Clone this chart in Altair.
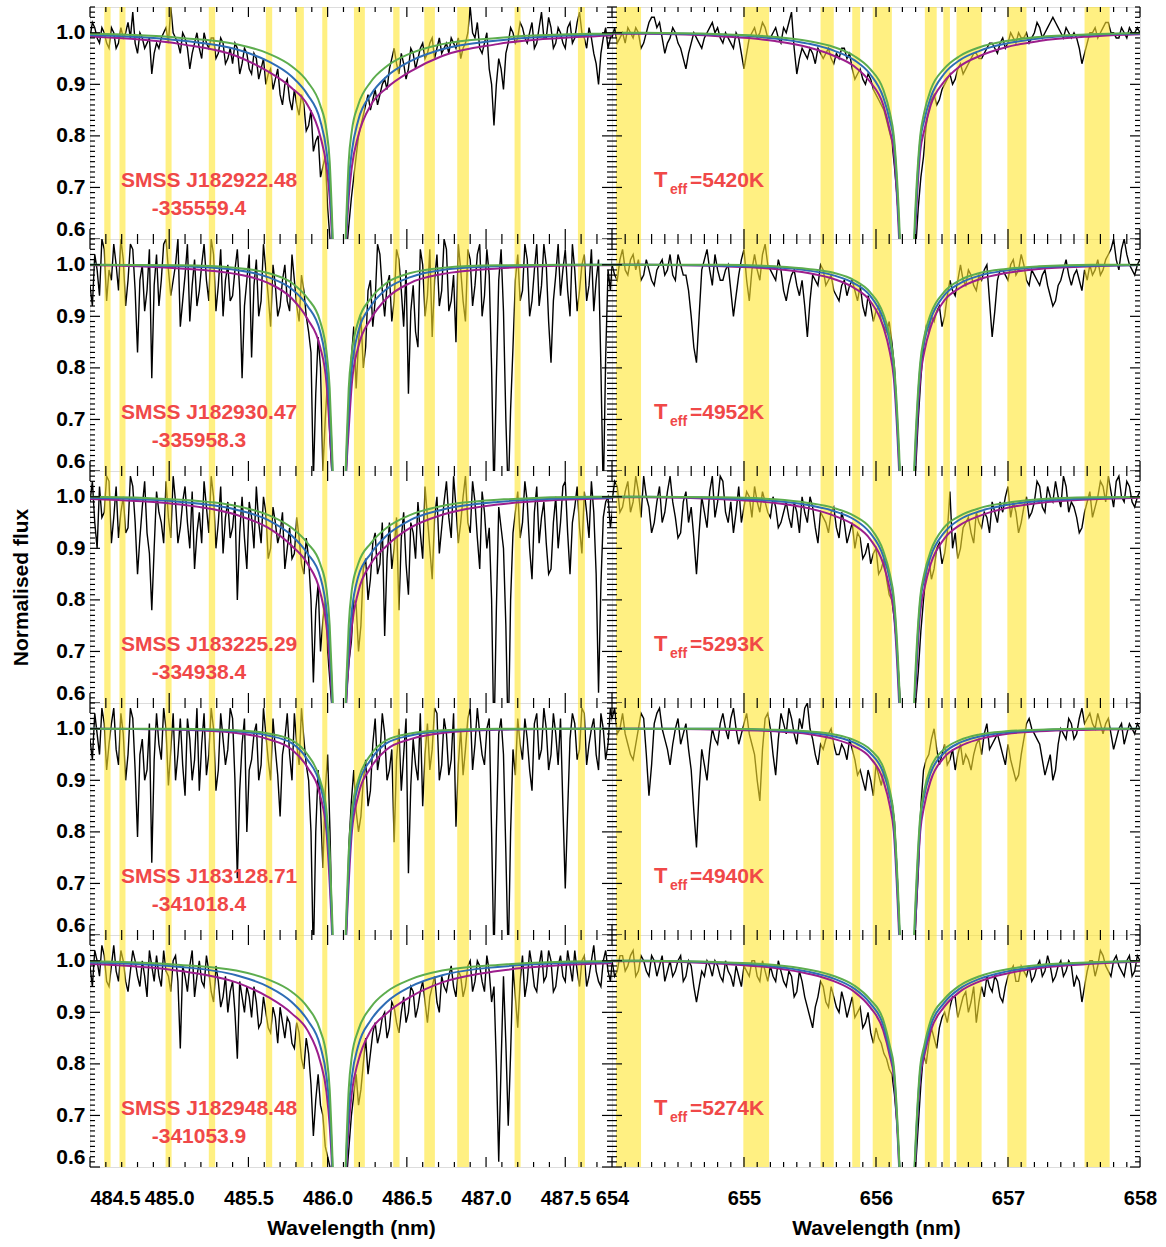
import altair as alt
import pandas as pd

FONT = "Liberation Sans"
RED = "#F04848"
W_L, W_R, H = 522, 528, 232
HB_DOMAIN = [484.5, 487.795]
HA_DOMAIN = [654.0, 658.0]
Y_DOMAIN = [0.6, 1.05]
HB_CENTER = 486.073
HA_CENTER = 656.235
HB_STEP, HA_STEP = 0.03, 0.04

# wavelength sampling of the plotted spectra (plus half-step samples in *_mid lists)
hb_wave = [round(484.50 + HB_STEP * i, 3) for i in range(111)]
ha_wave = [round(654.00 + HA_STEP * i, 3) for i in range(101)]

star_line1 = ["SMSS J182922.48", "SMSS J182930.47", "SMSS J183225.29", "SMSS J183128.71", "SMSS J182948.48"]
star_line2 = ["-335559.4", "-335958.3", "-334938.4", "-341018.4", "-341053.9"]
teff_text = ["=5420K", "=4952K", "=5293K", "=4940K", "=5274K"]

# masked (excluded) wavelength windows
hb_mask_lo = [484.59, 484.686, 484.977, 485.25, 485.61, 485.80, 485.966, 486.166, 486.414, 486.61, 486.818, 487.18, 487.58]
hb_mask_hi = [484.63, 484.724, 485.015, 485.29, 485.65, 485.85, 485.998, 486.235, 486.454, 486.677, 486.892, 487.218, 487.624]
ha_mask_lo = [654.03, 654.995, 655.58, 655.82, 655.975, 656.37, 656.51, 656.61, 656.995, 657.58]
ha_mask_hi = [654.22, 655.19, 655.68, 655.88, 656.12, 656.46, 656.56, 656.80, 657.14, 657.77]

# observed normalised flux, H-beta region (grid points)
hb_flux_1 = [0.99, 1.01, 0.98, 1.00, 0.97, 1.00, 0.98, 0.99, 1.02, 1.04,
             0.96, 0.99, 0.98, 0.92, 0.98, 0.99, 1.01, 1.05, 0.99, 0.96,
             0.99, 0.93, 0.98, 0.97, 1.00, 0.97, 0.99, 0.96, 0.98, 0.95,
             0.94, 0.97, 0.94, 0.96, 0.92, 0.95, 0.93, 0.90, 0.93, 0.91,
             0.88, 0.90, 0.87, 0.89, 0.84, 0.86, 0.82, 0.77, 0.80, 0.74,
             0.66, 0.55, 0.45, 0.45, 0.58, 0.68, 0.76, 0.82, 0.86, 0.85,
             0.89, 0.88, 0.91, 0.93, 0.97, 0.92, 0.94, 0.93, 0.96, 0.95,
             0.98, 0.96, 0.99, 0.97, 0.96, 0.98, 0.99, 0.97, 0.95, 0.98,
             1.05, 0.99, 0.97, 0.98, 0.93, 0.82, 0.95, 0.89, 0.98, 1.00,
             0.99, 1.01, 0.98, 1.02, 0.98, 1.04, 0.99, 1.01, 0.98, 1.00,
             0.97, 1.02, 0.99, 1.04, 0.99, 1.01, 0.96, 0.90, 0.99, 0.97,
             1.00]
hb_flux_2 = [0.96, 1.02, 0.94, 1.03, 0.99, 1.04, 0.95, 1.01, 0.97, 1.03,
             0.83, 1.00, 0.95, 0.78, 1.02, 0.97, 1.05, 0.94, 1.00, 0.88,
             0.98, 0.89, 1.01, 0.95, 1.04, 0.93, 1.02, 0.96, 0.90, 1.00,
             0.94, 1.03, 0.78, 0.97, 0.82, 1.01, 0.93, 0.99, 0.88, 0.96,
             0.92, 1.00, 0.91, 0.97, 0.89, 0.95, 0.87, 0.58, 0.86, 0.60,
             0.78, 0.58, 0.45, 0.45, 0.62, 0.82, 0.76, 0.90, 0.84, 0.97,
             0.93, 1.02, 0.90, 0.98, 0.93, 1.01, 0.88, 0.75, 0.96, 0.84,
             1.00, 0.94, 0.86, 1.02, 0.95, 1.03, 0.93, 0.85, 0.99, 0.89,
             1.01, 0.96, 1.04, 0.94, 0.98, 0.55, 0.97, 0.91, 0.55, 0.84,
             1.02, 0.95, 1.01, 0.93, 1.04, 0.96, 1.00, 0.81, 0.98, 0.94,
             1.03, 0.90, 0.99, 0.95, 1.02, 0.96, 0.91, 1.01, 0.55, 0.99,
             1.02]
hb_flux_3 = [0.99, 0.95, 1.02, 0.97, 1.03, 0.96, 0.92, 1.00, 0.94, 1.02,
             0.85, 0.98, 0.93, 0.78, 1.01, 0.95, 1.03, 0.92, 0.99, 0.94,
             1.02, 0.90, 0.86, 0.97, 1.03, 0.93, 1.00, 0.95, 0.89, 0.99,
             0.94, 0.80, 1.00, 0.86, 0.96, 1.02, 0.91, 0.97, 0.90, 0.95,
             0.93, 0.86, 0.94, 0.89, 0.92, 0.85, 0.88, 0.64, 0.83, 0.76,
             0.70, 0.58, 0.45, 0.45, 0.62, 0.72, 0.79, 0.75, 0.88, 0.84,
             0.93, 0.87, 0.73, 0.95, 0.90, 0.78, 0.97, 0.81, 0.93, 0.99,
             0.88, 0.96, 0.84, 1.00, 0.94, 1.03, 0.92, 0.98, 0.95, 1.04,
             0.93, 0.99, 0.86, 0.97, 0.94, 0.52, 0.98, 0.90, 0.52, 0.93,
             1.01, 0.95, 0.99, 0.84, 1.02, 0.96, 0.91, 0.86, 1.00, 0.95,
             1.03, 0.85, 0.98, 0.94, 1.01, 0.92, 0.97, 0.62, 0.96, 1.00,
             0.98]
hb_flux_4 = [0.98, 1.03, 0.95, 1.01, 0.97, 1.04, 0.93, 0.99, 0.95, 1.02,
             0.79, 0.98, 0.92, 0.74, 1.03, 0.94, 1.00, 0.96, 0.90, 1.02,
             0.87, 0.98, 0.94, 0.88, 1.03, 0.95, 1.00, 0.92, 0.98, 0.96,
             1.02, 0.71, 0.97, 0.80, 0.94, 1.01, 0.93, 0.99, 0.90, 0.96,
             0.83, 0.98, 0.95, 1.03, 0.93, 0.98, 0.90, 0.55, 0.92, 0.73,
             0.95, 0.58, 0.45, 0.45, 0.62, 0.86, 0.84, 0.83, 0.94, 0.88,
             1.02, 0.95, 0.99, 0.92, 0.78, 1.00, 0.95, 0.72, 0.98, 0.90,
             0.85, 1.01, 0.96, 1.03, 0.93, 0.99, 0.94, 0.81, 1.00, 0.96,
             1.04, 0.97, 0.99, 0.93, 1.02, 0.55, 0.99, 0.95, 0.55, 0.96,
             1.02, 0.94, 0.98, 0.88, 1.03, 0.96, 1.00, 0.95, 0.99, 1.02,
             0.69, 0.98, 1.01, 0.96, 1.03, 0.97, 1.02, 0.92, 1.00, 0.97,
             1.01]
hb_flux_5 = [0.99, 1.02, 0.97, 1.01, 0.95, 1.03, 0.96, 1.00, 0.94, 1.02,
             0.97, 1.00, 0.93, 0.99, 1.01, 0.95, 0.98, 0.94, 1.01, 0.83,
             0.97, 0.99, 0.93, 1.00, 0.95, 0.98, 0.92, 0.96, 0.93, 0.90,
             0.96, 0.81, 0.93, 0.95, 0.89, 0.92, 0.88, 0.90, 0.86, 0.89,
             0.91, 0.85, 0.88, 0.83, 0.86, 0.79, 0.82, 0.66, 0.78, 0.70,
             0.62, 0.56, 0.45, 0.45, 0.58, 0.70, 0.78, 0.75, 0.85, 0.82,
             0.88, 0.86, 0.90, 0.87, 0.91, 0.86, 0.93, 0.90, 0.94, 0.91,
             0.96, 0.88, 0.95, 0.92, 0.97, 0.94, 0.99, 0.93, 0.97, 0.95,
             1.00, 0.96, 0.99, 0.94, 0.98, 0.95, 0.61, 0.97, 0.68, 0.99,
             0.87, 1.01, 0.96, 0.99, 0.94, 1.02, 0.97, 1.00, 0.95, 1.01,
             0.96, 0.99, 1.02, 0.95, 1.01, 0.97, 1.03, 0.96, 1.00, 0.98,
             1.01]

# H-beta flux read at the half-step positions between grid points
hb_mid_1 = [1.02, 0.99, 1.01, 0.98, 1.01, 0.97, 1.01, 1.00, 0.99, 0.98,
            1.00, 0.97, 0.99, 0.96, 0.97, 1.00, 0.98, 1.00, 0.98, 1.00,
            0.97, 0.96, 1.00, 0.95, 0.98, 0.99, 0.95, 0.99, 0.94, 0.97,
            0.98, 0.92, 0.97, 0.93, 0.96, 0.91, 0.95, 0.92, 0.89, 0.93,
            0.86, 0.91, 0.85, 0.86, 0.88, 0.81, 0.85, 0.79, 0.72, 0.76,
            0.60, 0.50, 0.40, 0.50, 0.63, 0.72, 0.80, 0.84, 0.88, 0.87,
            0.86, 0.90, 0.89, 0.95, 0.94, 0.96, 0.91, 0.97, 0.93, 0.97,
            0.95, 0.98, 0.95, 0.99, 0.97, 0.96, 0.98, 0.99, 0.97, 1.00,
            1.00, 1.02, 0.96, 1.00, 0.90, 0.90, 0.93, 0.96, 1.01, 0.98,
            1.02, 0.99, 1.00, 0.97, 1.01, 0.99, 1.03, 0.97, 1.01, 0.98,
            1.01, 0.98, 1.02, 1.00, 0.97, 0.99, 0.94, 0.96, 1.01, 0.99]
hb_mid_2 = [0.92, 0.99, 1.05, 0.93, 0.97, 1.00, 1.05, 0.92, 1.04, 0.95,
            0.97, 0.91, 1.03, 0.96, 0.92, 1.04, 0.99, 0.97, 1.05, 0.93,
            1.04, 0.96, 0.92, 1.00, 0.97, 1.05, 0.91, 1.03, 0.97, 0.93,
            0.99, 0.95, 0.92, 1.02, 0.96, 0.90, 1.04, 0.94, 1.00, 0.90,
            0.97, 0.93, 1.02, 0.92, 0.98, 0.90, 0.83, 0.75, 0.80, 0.70,
            0.66, 0.50, 0.40, 0.52, 0.72, 0.88, 0.85, 0.80, 0.95, 0.88,
            1.04, 0.95, 0.96, 0.89, 1.03, 0.95, 0.99, 0.91, 0.87, 1.03,
            0.90, 1.03, 0.97, 0.92, 1.05, 0.91, 0.98, 1.04, 0.93, 1.03,
            0.92, 1.02, 0.90, 1.03, 0.80, 0.78, 1.03, 0.70, 0.72, 0.97,
            0.93, 1.04, 0.90, 0.99, 0.92, 1.04, 0.89, 0.93, 1.04, 0.99,
            0.95, 1.04, 0.91, 1.00, 0.93, 1.03, 0.97, 0.80, 0.82, 0.95]
hb_mid_3 = [1.03, 0.90, 0.96, 1.04, 0.91, 1.02, 0.97, 0.93, 1.04, 0.95,
            0.92, 1.03, 0.89, 0.90, 0.97, 0.91, 0.96, 1.04, 0.91, 0.99,
            0.95, 1.01, 0.93, 0.91, 0.98, 1.04, 0.90, 1.02, 0.96, 0.92,
            0.99, 0.93, 0.92, 0.99, 0.90, 0.95, 1.00, 0.88, 0.98, 0.91,
            0.97, 0.90, 0.88, 0.96, 0.87, 0.92, 0.80, 0.78, 0.70, 0.80,
            0.64, 0.50, 0.40, 0.52, 0.68, 0.80, 0.70, 0.86, 0.80, 0.91,
            0.85, 0.95, 0.88, 0.86, 0.96, 0.92, 0.87, 0.95, 0.88, 0.93,
            1.02, 0.90, 0.96, 0.89, 0.99, 0.96, 1.04, 0.91, 1.00, 0.95,
            1.03, 0.92, 1.01, 0.90, 0.80, 0.78, 0.94, 0.75, 0.80, 0.97,
            0.92, 1.03, 0.90, 0.97, 0.91, 0.99, 0.85, 0.95, 0.90, 1.02,
            0.93, 0.95, 1.02, 0.89, 0.97, 1.03, 0.85, 0.83, 0.99, 0.94]
hb_mid_4 = [0.94, 0.99, 1.04, 0.92, 1.01, 0.96, 1.03, 0.90, 1.04, 0.92,
            0.95, 0.90, 1.01, 0.94, 0.97, 1.04, 0.89, 1.03, 0.95, 0.93,
            1.02, 0.90, 1.04, 0.97, 0.91, 1.04, 0.88, 1.03, 0.93, 1.04,
            0.90, 0.88, 1.02, 0.92, 0.99, 0.90, 1.04, 0.94, 1.02, 0.91,
            0.95, 1.03, 0.90, 0.97, 1.04, 0.93, 0.80, 0.80, 0.85, 0.88,
            0.80, 0.50, 0.40, 0.52, 0.78, 0.92, 0.80, 0.90, 0.85, 0.97,
            0.92, 1.03, 0.90, 0.96, 0.94, 0.88, 1.02, 0.89, 0.93, 1.03,
            0.95, 0.92, 1.04, 0.90, 1.02, 0.91, 1.03, 0.93, 0.91, 1.02,
            0.92, 1.04, 0.95, 1.00, 0.80, 0.80, 1.02, 0.76, 0.80, 0.91,
            0.97, 1.02, 0.92, 1.01, 0.94, 1.04, 0.92, 1.03, 0.93, 0.85,
            0.84, 1.03, 0.94, 1.04, 0.93, 1.00, 0.95, 1.03, 0.94, 1.04]
hb_mid_5 = [0.95, 1.00, 1.03, 0.96, 0.99, 0.98, 1.02, 0.96, 0.98, 1.00,
            0.95, 0.97, 1.02, 0.96, 0.97, 1.02, 0.97, 1.00, 0.96, 0.99,
            0.94, 1.02, 0.97, 0.96, 1.01, 0.94, 0.99, 0.91, 0.97, 0.94,
            0.90, 0.96, 0.90, 0.93, 0.95, 0.87, 0.93, 0.87, 0.91, 0.84,
            0.88, 0.89, 0.84, 0.88, 0.81, 0.85, 0.76, 0.73, 0.72, 0.64,
            0.60, 0.50, 0.40, 0.50, 0.64, 0.74, 0.72, 0.80, 0.78, 0.86,
            0.84, 0.89, 0.85, 0.92, 0.88, 0.90, 0.88, 0.95, 0.89, 0.94,
            0.92, 0.93, 0.97, 0.90, 0.95, 0.97, 0.95, 0.98, 0.93, 0.99,
            0.94, 1.00, 0.96, 1.01, 0.92, 0.80, 0.80, 0.84, 0.82, 0.93,
            0.96, 0.93, 1.02, 0.95, 0.99, 0.96, 1.02, 0.94, 0.99, 0.97,
            1.02, 0.96, 0.98, 1.00, 0.95, 1.00, 0.98, 0.95, 1.02, 0.96]

# observed normalised flux, H-alpha region (grid points)
ha_flux_1 = [0.99, 0.98, 1.00, 1.01, 0.99, 1.00, 0.98, 1.02, 1.03, 1.02,
             0.96, 0.99, 1.00, 0.97, 0.93, 0.98, 0.99, 0.97, 1.00, 1.02,
             1.01, 0.98, 0.99, 0.97, 0.99, 0.93, 0.99, 1.01, 1.00, 1.01,
             0.99, 1.01, 0.98, 1.00, 1.04, 0.92, 0.97, 0.95, 0.96, 0.97,
             0.95, 0.97, 0.94, 0.95, 0.97, 0.96, 0.91, 0.93, 0.90, 0.91,
             0.88, 0.86, 0.83, 0.79, 0.68, 0.50, 0.40, 0.50, 0.66, 0.76,
             0.85, 0.88, 0.87, 0.90, 0.92, 0.91, 0.94, 0.93, 0.95, 0.96,
             0.95, 0.97, 0.98, 0.96, 0.99, 0.98, 0.99, 1.00, 0.99, 0.98,
             1.00, 1.01, 1.00, 1.02, 1.02, 1.00, 1.01, 0.99, 0.99, 0.94,
             0.98, 1.00, 0.99, 1.01, 1.02, 1.00, 0.99, 1.00, 1.01, 1.00,
             1.00]
ha_flux_2 = [1.00, 0.97, 1.03, 0.98, 1.02, 1.01, 0.98, 0.99, 0.96, 1.00,
             0.98, 1.02, 0.97, 1.00, 0.98, 0.90, 0.81, 0.99, 1.03, 0.96,
             0.99, 0.97, 1.00, 0.90, 0.98, 1.03, 0.93, 1.02, 0.97, 1.04,
             0.99, 0.97, 0.99, 0.93, 0.98, 0.96, 0.97, 0.86, 0.98, 0.96,
             0.99, 0.97, 0.95, 0.93, 0.97, 0.96, 0.95, 0.96, 0.90, 0.92,
             0.91, 0.89, 0.87, 0.85, 0.70, 0.50, 0.40, 0.50, 0.70, 0.84,
             0.87, 0.89, 0.92, 0.90, 0.97, 0.94, 1.00, 0.96, 0.98, 0.95,
             0.97, 1.00, 0.86, 0.97, 0.99, 0.97, 1.01, 0.99, 1.00, 0.96,
             0.98, 0.96, 0.99, 0.94, 0.93, 0.97, 1.01, 0.96, 0.99, 0.95,
             0.97, 0.98, 1.01, 0.99, 1.02, 1.05, 0.99, 1.05, 1.00, 0.98,
             1.01]
ha_flux_3 = [0.99, 1.02, 0.98, 1.03, 0.99, 1.01, 1.04, 0.98, 0.95, 1.02,
             0.97, 1.04, 0.96, 0.93, 1.01, 0.98, 0.85, 1.00, 0.94, 1.04,
             0.99, 1.03, 0.95, 0.93, 1.02, 0.98, 1.00, 1.02, 0.97, 0.99,
             0.96, 0.98, 0.95, 0.99, 0.94, 0.97, 1.00, 0.95, 0.98, 0.91,
             0.96, 0.93, 0.98, 0.92, 0.95, 0.93, 0.90, 0.92, 0.89, 0.87,
             0.90, 0.86, 0.84, 0.80, 0.70, 0.52, 0.40, 0.50, 0.66, 0.80,
             0.88, 0.86, 0.91, 0.89, 1.01, 0.93, 0.90, 0.95, 0.93, 0.97,
             0.94, 0.96, 0.99, 0.95, 0.97, 1.02, 0.99, 0.93, 0.98, 0.96,
             0.99, 1.02, 0.97, 1.00, 1.03, 0.98, 1.02, 0.99, 0.96, 0.94,
             0.99, 0.96, 1.00, 1.02, 1.04, 0.98, 1.04, 0.99, 1.02, 0.98,
             1.01]
ha_flux_4 = [1.02, 0.99, 1.03, 0.97, 0.94, 1.00, 1.02, 0.87, 1.01, 1.04,
             0.98, 0.93, 1.00, 0.97, 1.01, 0.92, 0.77, 0.96, 0.90, 1.00,
             0.97, 1.03, 0.98, 1.04, 0.97, 1.01, 0.99, 0.95, 0.86, 1.02,
             1.00, 0.91, 1.03, 0.99, 1.02, 0.97, 1.00, 1.05, 0.98, 0.93,
             0.96, 0.99, 0.97, 0.95, 0.96, 0.98, 0.94, 0.92, 0.88, 0.90,
             0.93, 0.89, 0.90, 0.86, 0.72, 0.50, 0.40, 0.52, 0.72, 0.92,
             0.95, 1.00, 0.93, 0.97, 0.94, 0.92, 0.97, 0.95, 0.92, 0.97,
             0.95, 1.01, 0.97, 0.99, 0.95, 0.97, 0.92, 0.91, 0.98, 1.02,
             0.99, 0.97, 0.91, 0.95, 0.92, 1.00, 0.98, 1.01, 0.99, 1.04,
             1.02, 1.01, 1.03, 0.99, 1.02, 0.96, 1.00, 0.97, 1.01, 0.99,
             1.00]
ha_flux_5 = [1.00, 0.98, 1.01, 0.99, 1.02, 0.98, 1.00, 0.97, 1.00, 0.99,
             0.96, 1.00, 0.98, 1.01, 0.97, 0.99, 0.92, 0.98, 1.00, 0.97,
             0.99, 0.96, 0.98, 0.95, 0.97, 0.99, 0.97, 1.00, 0.96, 0.98,
             0.99, 0.96, 0.98, 0.95, 0.97, 0.94, 0.96, 0.91, 0.87, 0.93,
             0.95, 0.91, 0.93, 0.90, 0.92, 0.91, 0.89, 0.91, 0.88, 0.86,
             0.87, 0.84, 0.81, 0.78, 0.68, 0.50, 0.40, 0.50, 0.68, 0.82,
             0.84, 0.85, 0.87, 0.90, 0.91, 0.93, 0.91, 0.94, 0.92, 0.88,
             0.95, 0.97, 0.94, 0.96, 0.92, 0.97, 0.99, 0.96, 0.98, 0.99,
             0.97, 1.00, 0.98, 0.99, 0.97, 1.00, 0.98, 0.99, 0.97, 0.92,
             0.98, 1.00, 0.99, 1.01, 0.98, 1.00, 0.99, 0.97, 1.01, 0.98,
             1.00]

# H-alpha flux read at the half-step positions between grid points
ha_mid_1 = [1.01, 0.99, 0.98, 1.00, 1.01, 0.97, 1.00, 1.03, 1.01, 0.99,
            0.98, 1.01, 0.98, 0.95, 0.96, 1.00, 0.98, 0.99, 1.01, 1.00,
            0.99, 1.00, 0.98, 1.00, 0.96, 0.96, 1.00, 0.99, 1.02, 0.99,
            1.00, 0.99, 1.01, 1.02, 0.97, 0.95, 0.96, 0.97, 0.94, 0.96,
            0.96, 0.95, 0.96, 0.97, 0.95, 0.93, 0.92, 0.91, 0.92, 0.89,
            0.87, 0.85, 0.81, 0.74, 0.60, 0.45, 0.45, 0.58, 0.72, 0.82,
            0.87, 0.86, 0.89, 0.91, 0.90, 0.93, 0.92, 0.94, 0.96, 0.95,
            0.96, 0.98, 0.97, 0.98, 0.97, 1.00, 0.98, 0.99, 1.00, 0.99,
            1.02, 0.99, 1.01, 1.03, 1.01, 0.99, 1.00, 1.00, 0.97, 0.96,
            1.00, 1.01, 1.00, 1.02, 1.00, 0.99, 1.01, 0.99, 1.00, 1.01]
ha_mid_2 = [0.98, 1.01, 0.99, 1.01, 0.99, 0.97, 1.01, 0.97, 0.99, 1.01,
            0.99, 0.98, 1.02, 0.98, 0.95, 0.84, 0.90, 1.01, 0.99, 1.02,
            0.97, 0.99, 0.95, 0.94, 1.01, 0.97, 0.99, 0.99, 1.02, 1.00,
            0.98, 1.01, 0.95, 0.96, 0.99, 0.94, 0.92, 0.93, 0.97, 1.00,
            0.96, 0.98, 0.94, 0.96, 0.94, 0.97, 0.93, 0.92, 0.94, 0.89,
            0.92, 0.88, 0.89, 0.80, 0.60, 0.45, 0.45, 0.60, 0.78, 0.88,
            0.90, 0.91, 0.88, 0.94, 0.95, 0.97, 0.97, 0.99, 0.96, 0.98,
            0.99, 0.93, 0.91, 0.99, 0.98, 1.00, 0.98, 1.02, 0.97, 0.99,
            0.97, 0.98, 0.96, 0.92, 0.96, 0.99, 0.98, 0.98, 0.97, 0.99,
            1.00, 0.99, 0.98, 1.01, 1.03, 1.01, 1.03, 1.02, 0.99, 1.00]
ha_mid_3 = [1.03, 0.97, 1.01, 0.97, 1.04, 0.96, 1.00, 0.93, 0.99, 0.95,
            1.01, 0.99, 0.92, 0.99, 0.95, 0.92, 0.93, 0.97, 1.01, 0.96,
            1.04, 0.97, 0.99, 0.97, 0.95, 1.01, 0.96, 0.99, 1.01, 0.97,
            1.00, 0.94, 0.97, 0.96, 0.99, 0.93, 0.97, 1.00, 0.94, 0.97,
            0.95, 0.97, 0.94, 0.97, 0.91, 0.95, 0.93, 0.88, 0.91, 0.89,
            0.85, 0.88, 0.81, 0.76, 0.62, 0.45, 0.45, 0.60, 0.74, 0.85,
            0.84, 0.90, 0.87, 0.93, 0.90, 0.88, 0.94, 0.96, 0.91, 0.95,
            0.97, 0.93, 0.97, 0.99, 1.00, 0.96, 0.97, 0.95, 1.00, 0.97,
            1.03, 0.98, 1.02, 0.99, 1.00, 1.04, 0.97, 0.98, 0.93, 0.97,
            1.01, 0.98, 1.03, 0.99, 1.01, 1.03, 1.00, 1.03, 0.99, 1.00]
ha_mid_4 = [1.04, 1.00, 0.99, 0.95, 0.97, 1.03, 0.95, 0.93, 1.03, 1.00,
            0.96, 0.97, 1.02, 0.99, 0.96, 0.84, 0.88, 0.93, 0.96, 0.98,
            1.01, 1.00, 1.02, 1.00, 0.99, 1.03, 0.97, 0.90, 0.96, 1.03,
            0.95, 0.98, 1.01, 1.04, 0.99, 1.02, 1.04, 1.00, 0.95, 0.97,
            0.98, 1.00, 0.95, 0.97, 0.94, 0.96, 0.91, 0.90, 0.92, 0.87,
            0.91, 0.92, 0.87, 0.82, 0.60, 0.45, 0.45, 0.62, 0.85, 0.94,
            0.98, 0.96, 0.95, 0.93, 0.96, 0.95, 0.93, 0.94, 0.95, 0.98,
            0.99, 0.96, 0.98, 0.97, 0.93, 0.94, 0.90, 0.95, 1.01, 1.00,
            0.98, 0.94, 0.93, 0.90, 0.97, 0.99, 1.02, 0.98, 1.02, 1.01,
            1.03, 1.00, 1.01, 1.01, 0.99, 0.98, 1.01, 0.99, 1.00, 1.01]
ha_mid_5 = [0.97, 1.01, 0.98, 1.01, 0.97, 1.01, 0.98, 1.01, 0.97, 1.01,
            0.98, 0.97, 1.00, 0.96, 1.00, 0.95, 0.95, 0.97, 0.99, 1.00,
            0.97, 1.00, 0.97, 0.99, 0.95, 0.98, 1.00, 0.97, 1.00, 0.96,
            0.97, 1.00, 0.96, 0.98, 0.93, 0.98, 0.93, 0.89, 0.91, 0.96,
            0.92, 0.95, 0.91, 0.94, 0.89, 0.93, 0.90, 0.87, 0.90, 0.84,
            0.85, 0.82, 0.79, 0.74, 0.60, 0.45, 0.45, 0.60, 0.76, 0.80,
            0.87, 0.83, 0.89, 0.88, 0.93, 0.89, 0.93, 0.90, 0.95, 0.92,
            0.93, 0.95, 0.97, 0.93, 0.95, 0.98, 0.96, 0.99, 0.97, 0.96,
            0.99, 0.97, 1.01, 0.96, 0.99, 0.97, 1.00, 0.95, 0.96, 0.95,
            1.00, 0.97, 1.02, 0.99, 0.97, 1.01, 0.98, 1.00, 0.97, 1.01]

# synthetic model profiles: flux at |wavelength - line centre| (nm)
hb_offsets = [0.0, 0.03, 0.045, 0.06, 0.08, 0.12, 0.2, 0.3, 0.45, 0.65, 1.0, 1.6, 2.5, 4.0]
ha_offsets = [0.0, 0.03, 0.06, 0.1, 0.13, 0.18, 0.28, 0.4, 0.55, 0.75, 1.0, 1.4, 2.0, 4.0]

hb_purple = [
    [0.25, 0.45, 0.60, 0.68, 0.74, 0.80, 0.86, 0.893, 0.925, 0.955, 0.978, 0.993, 0.999, 1.0],
    [0.25, 0.45, 0.60, 0.68, 0.77, 0.84, 0.895, 0.935, 0.965, 0.982, 0.993, 0.999, 1.0, 1.0],
    [0.25, 0.45, 0.60, 0.68, 0.75, 0.815, 0.87, 0.905, 0.94, 0.965, 0.985, 0.996, 1.0, 1.0],
    [0.25, 0.45, 0.60, 0.70, 0.80, 0.87, 0.925, 0.96, 0.98, 0.992, 0.998, 1.0, 1.0, 1.0],
    [0.25, 0.45, 0.60, 0.68, 0.745, 0.805, 0.865, 0.898, 0.93, 0.958, 0.98, 0.994, 0.999, 1.0],
]
hb_blue = [
    [0.25, 0.47, 0.62, 0.71, 0.77, 0.83, 0.88, 0.915, 0.945, 0.968, 0.985, 0.996, 1.0, 1.0],
    [0.25, 0.47, 0.62, 0.72, 0.80, 0.87, 0.92, 0.953, 0.976, 0.99, 0.997, 1.0, 1.0, 1.0],
    [0.25, 0.47, 0.62, 0.71, 0.78, 0.845, 0.89, 0.925, 0.955, 0.975, 0.99, 0.998, 1.0, 1.0],
    [0.25, 0.47, 0.62, 0.73, 0.82, 0.89, 0.94, 0.972, 0.987, 0.995, 0.999, 1.0, 1.0, 1.0],
    [0.25, 0.47, 0.62, 0.71, 0.775, 0.835, 0.885, 0.92, 0.95, 0.972, 0.988, 0.997, 1.0, 1.0],
]
hb_green = [
    [0.25, 0.50, 0.64, 0.75, 0.81, 0.86, 0.905, 0.935, 0.96, 0.978, 0.99, 0.998, 1.0, 1.0],
    [0.25, 0.50, 0.64, 0.76, 0.83, 0.89, 0.935, 0.965, 0.984, 0.994, 0.999, 1.0, 1.0, 1.0],
    [0.25, 0.50, 0.64, 0.75, 0.82, 0.87, 0.91, 0.94, 0.965, 0.982, 0.994, 1.0, 1.0, 1.0],
    [0.25, 0.50, 0.64, 0.76, 0.84, 0.90, 0.95, 0.978, 0.991, 0.997, 1.0, 1.0, 1.0, 1.0],
    [0.25, 0.50, 0.64, 0.75, 0.815, 0.865, 0.91, 0.94, 0.964, 0.981, 0.992, 0.999, 1.0, 1.0],
]
ha_purple = [
    [0.2, 0.40, 0.60, 0.77, 0.81, 0.86, 0.905, 0.935, 0.955, 0.972, 0.984, 0.993, 0.998, 1.0],
    [0.2, 0.40, 0.60, 0.78, 0.83, 0.88, 0.93, 0.955, 0.972, 0.984, 0.992, 0.997, 1.0, 1.0],
    [0.2, 0.40, 0.60, 0.775, 0.82, 0.87, 0.918, 0.945, 0.963, 0.978, 0.988, 0.995, 0.999, 1.0],
    [0.2, 0.40, 0.60, 0.80, 0.85, 0.90, 0.944, 0.966, 0.98, 0.99, 0.995, 0.998, 1.0, 1.0],
    [0.2, 0.40, 0.60, 0.775, 0.815, 0.865, 0.91, 0.94, 0.96, 0.975, 0.986, 0.994, 0.999, 1.0],
]
ha_blue = [
    [0.2, 0.42, 0.62, 0.79, 0.83, 0.875, 0.92, 0.947, 0.965, 0.979, 0.989, 0.996, 0.999, 1.0],
    [0.2, 0.42, 0.62, 0.80, 0.85, 0.895, 0.94, 0.964, 0.979, 0.989, 0.995, 0.998, 1.0, 1.0],
    [0.2, 0.42, 0.62, 0.795, 0.84, 0.885, 0.93, 0.956, 0.972, 0.984, 0.992, 0.997, 1.0, 1.0],
    [0.2, 0.42, 0.62, 0.82, 0.87, 0.915, 0.953, 0.973, 0.985, 0.993, 0.997, 1.0, 1.0, 1.0],
    [0.2, 0.41, 0.61, 0.785, 0.825, 0.875, 0.918, 0.946, 0.965, 0.979, 0.989, 0.996, 1.0, 1.0],
]
ha_green = [
    [0.2, 0.44, 0.64, 0.80, 0.845, 0.89, 0.93, 0.955, 0.972, 0.984, 0.992, 0.997, 1.0, 1.0],
    [0.2, 0.44, 0.64, 0.81, 0.86, 0.905, 0.947, 0.97, 0.984, 0.992, 0.997, 1.0, 1.0, 1.0],
    [0.2, 0.44, 0.64, 0.805, 0.85, 0.895, 0.94, 0.963, 0.978, 0.988, 0.995, 0.999, 1.0, 1.0],
    [0.2, 0.44, 0.64, 0.83, 0.88, 0.925, 0.96, 0.978, 0.989, 0.995, 0.998, 1.0, 1.0, 1.0],
    [0.2, 0.42, 0.62, 0.795, 0.835, 0.885, 0.925, 0.952, 0.97, 0.983, 0.992, 0.997, 1.0, 1.0],
]

MODEL_COLORS = {"purple": "#9C1E8C", "blue": "#2E6CB5", "green": "#5DAD4E"}

Y_MAJOR = [0.6, 0.7, 0.8, 0.9, 1.0]
Y_MINOR = [round(0.6 + 0.01 * k, 2) for k in range(46) if k % 10 != 0]
HB_MAJOR = [484.5, 485.0, 485.5, 486.0, 486.5, 487.0, 487.5]
HB_MINOR = [round(484.5 + 0.1 * k, 1) for k in range(33) if k % 5 != 0]
HA_MAJOR = [654, 655, 656, 657, 658]
HA_MINOR = [round(654 + 0.1 * k, 1) for k in range(41) if k % 10 != 0]

hb_flux = [hb_flux_1, hb_flux_2, hb_flux_3, hb_flux_4, hb_flux_5]
hb_mid = [hb_mid_1, hb_mid_2, hb_mid_3, hb_mid_4, hb_mid_5]
ha_flux = [ha_flux_1, ha_flux_2, ha_flux_3, ha_flux_4, ha_flux_5]
ha_mid = [ha_mid_1, ha_mid_2, ha_mid_3, ha_mid_4, ha_mid_5]


def spectrum_frame(wave, flux, mid, step):
    ws, fs = [], []
    for i, (w, f) in enumerate(zip(wave, flux)):
        ws.append(w)
        fs.append(f)
        if i < len(mid):
            ws.append(round(w + step / 2, 4))
            fs.append(mid[i])
    return pd.DataFrame({"w": ws, "f": fs})


def profile_frame(center, offsets, values):
    xs = [center - o for o in reversed(offsets[1:])] + [center + o for o in offsets]
    ys = list(reversed(values[1:])) + list(values)
    return pd.DataFrame({"w": xs, "f": ys})


def make_panel(row, side):
    left = side == "L"
    W = W_L if left else W_R
    domain = HB_DOMAIN if left else HA_DOMAIN
    spec_df = (spectrum_frame(hb_wave, hb_flux[row], hb_mid[row], HB_STEP) if left
               else spectrum_frame(ha_wave, ha_flux[row], ha_mid[row], HA_STEP))
    center = HB_CENTER if left else HA_CENTER
    offsets = hb_offsets if left else ha_offsets
    mlo, mhi = (hb_mask_lo, hb_mask_hi) if left else (ha_mask_lo, ha_mask_hi)
    models = ([("purple", hb_purple[row]), ("blue", hb_blue[row]), ("green", hb_green[row])] if left
              else [("purple", ha_purple[row]), ("blue", ha_blue[row]), ("green", ha_green[row])])
    xmaj = HB_MAJOR if left else HA_MAJOR
    xmin = HB_MINOR if left else HA_MINOR

    xs = alt.Scale(domain=domain, nice=False, zero=False)
    ys = alt.Scale(domain=Y_DOMAIN, nice=False, zero=False)

    if left:
        yaxis = alt.Axis(values=Y_MAJOR, format=".1f", ticks=False, domain=False, grid=False,
                         labelFont=FONT, labelFontSize=21, labelFontWeight="bold", labelColor="black",
                         labelPadding=5, labelFlush=True,
                         title="Normalised flux", titleFont=FONT, titleFontSize=21, titleFontWeight="bold",
                         titleColor="black", titleOpacity=1 if row == 2 else 0, titlePadding=24)
    else:
        yaxis = None
    if row == 4:
        xaxis = alt.Axis(values=xmaj, format=".1f" if left else "d", ticks=False, domain=False, grid=False,
                         labelFont=FONT, labelFontSize=20, labelFontWeight="bold", labelColor="black",
                         labelPadding=21, labelFlush=left,
                         title="Wavelength (nm)", titleFont=FONT, titleFontSize=21, titleFontWeight="bold",
                         titleColor="black", titlePadding=9)
    else:
        xaxis = None

    X = lambda f: alt.X(f, scale=xs, axis=xaxis, title="Wavelength (nm)" if row == 4 else None)
    Y = lambda f: alt.Y(f, scale=ys, axis=yaxis, title="Normalised flux" if left else None)

    spec = alt.Chart(spec_df).mark_line(color="black", strokeWidth=1.4, clip=True).encode(
        x=X("w:Q"), y=Y("f:Q"))

    mask_df = pd.DataFrame({"lo": mlo, "hi": mhi})
    masks = alt.Chart(mask_df).mark_rect(color="#FFE62E", opacity=0.6).encode(
        x=X("lo:Q"), x2="hi:Q", y=alt.value(0), y2=alt.value(H))

    layers = [spec, masks]
    for name, vals in models:
        mdf = profile_frame(center, offsets, vals)
        layers.append(alt.Chart(mdf).mark_line(color=MODEL_COLORS[name], strokeWidth=2.0,
                                               interpolate="monotone", clip=True).encode(
            x=X("w:Q"), y=Y("f:Q")))

    # tick marks pointing into the panel on all four sides
    ymaj = pd.DataFrame({"v": Y_MAJOR})
    ymin = pd.DataFrame({"v": Y_MINOR})
    xmaj_df = pd.DataFrame({"v": xmaj})
    xmin_df = pd.DataFrame({"v": xmin})
    for df, ln in ((ymaj, 10), (ymin, 5)):
        for a, b in ((0, ln), (W - ln, W)):
            layers.append(alt.Chart(df).mark_rule(color="black", strokeWidth=1.2).encode(
                y=Y("v:Q"), x=alt.value(a), x2=alt.value(b)))
    for df, ln in ((xmaj_df, 10), (xmin_df, 5)):
        for a, b in ((H, H - ln), (0, ln)):
            layers.append(alt.Chart(df).mark_rule(color="black", strokeWidth=1.2).encode(
                x=X("v:Q"), y=alt.value(a), y2=alt.value(b)))

    if left:
        layers.append(alt.Chart(pd.DataFrame({"t": [star_line1[row]]})).mark_text(
            font=FONT, fontSize=21, fontWeight="bold", color=RED, align="left", baseline="alphabetic").encode(
            text="t:N", x=alt.value(31), y=alt.value(180)))
        layers.append(alt.Chart(pd.DataFrame({"t": [star_line2[row]]})).mark_text(
            font=FONT, fontSize=21, fontWeight="bold", color=RED, align="center", baseline="alphabetic").encode(
            text="t:N", x=alt.value(109), y=alt.value(208)))
    else:
        layers.append(alt.Chart(pd.DataFrame({"t": ["T"]})).mark_text(
            font=FONT, fontSize=22, fontWeight="bold", color=RED, align="left", baseline="alphabetic").encode(
            text="t:N", x=alt.value(42), y=alt.value(180)))
        layers.append(alt.Chart(pd.DataFrame({"t": ["eff"]})).mark_text(
            font=FONT, fontSize=14, fontWeight="bold", color=RED, align="left", baseline="alphabetic").encode(
            text="t:N", x=alt.value(58), y=alt.value(187)))
        layers.append(alt.Chart(pd.DataFrame({"t": [teff_text[row]]})).mark_text(
            font=FONT, fontSize=21, fontWeight="bold", color=RED, align="left", baseline="alphabetic").encode(
            text="t:N", x=alt.value(78), y=alt.value(180)))

    return alt.layer(*layers).properties(width=W, height=H)


panels = []
for r in range(5):
    panels.append(make_panel(r, "L"))
    panels.append(make_panel(r, "R"))

chart = alt.concat(*panels, columns=2, spacing=0, bounds="flush", align="each").properties(
    padding={"left": 10, "top": 5, "right": 5, "bottom": 2}
).configure_view(stroke="black", strokeWidth=1.5).configure(background="white")

chart.save("out.html", embed_options={"renderer": "svg", "actions": False})
